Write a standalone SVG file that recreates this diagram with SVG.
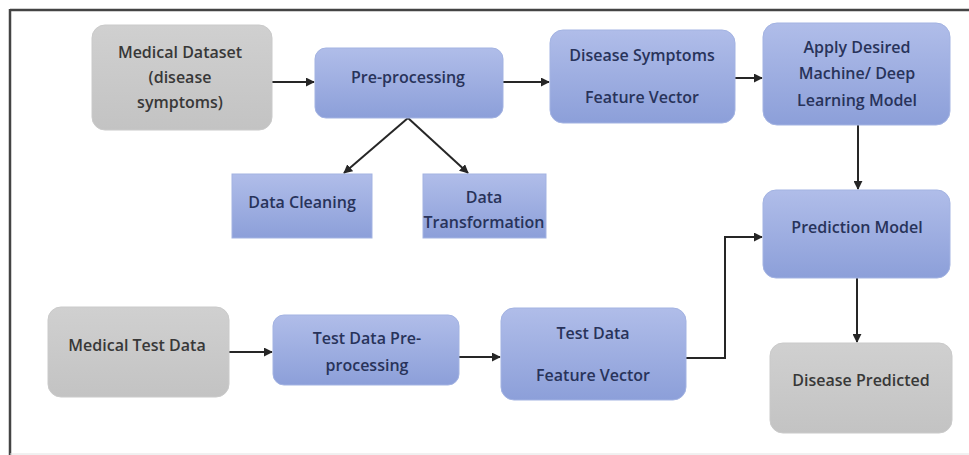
<svg xmlns="http://www.w3.org/2000/svg" width="969" height="455" viewBox="0 0 969 455">
<defs>
<linearGradient id="gb" x1="0" y1="0" x2="0" y2="1">
<stop offset="0" stop-color="#b0bde9"/>
<stop offset="1" stop-color="#8c9fd9"/>
</linearGradient>
<linearGradient id="gg" x1="0" y1="0" x2="0" y2="1">
<stop offset="0" stop-color="#d0d0d0"/>
<stop offset="1" stop-color="#c3c3c3"/>
</linearGradient>
<marker id="ah" viewBox="0 0 10 10" refX="9" refY="5" markerWidth="4.5" markerHeight="4.5" orient="auto">
<path d="M0,0 L10,5 L0,10 z" fill="#262626"/>
</marker>
</defs>
<style>
.blue{fill:url(#gb);stroke:#a3b3e2;stroke-width:1}
.gray{fill:url(#gg);stroke:#cacaca;stroke-width:1}
.t{font-family:"Open Sans","Liberation Sans",sans-serif;font-size:16px;font-weight:600;text-anchor:middle;dominant-baseline:central}
.tb{fill:#28335a}
.tg{fill:#383838}
.c{fill:none;stroke:#262626;stroke-width:2;marker-end:url(#ah)}
</style>
<rect width="969" height="455" fill="#ffffff"/>
<g id="frame">
<line x1="10" y1="10" x2="969" y2="10" stroke="#444" stroke-width="2.5"/>
<line x1="10" y1="9" x2="10" y2="455" stroke="#444" stroke-width="2.5"/>
<line x1="10" y1="454" x2="969" y2="454" stroke="#e2e2e2" stroke-width="1"/>
</g>
<g id="connectors">
<line class="c" x1="272" y1="82" x2="314" y2="82"/>
<line class="c" x1="503" y1="82" x2="549" y2="82"/>
<line class="c" x1="408" y1="118" x2="344" y2="173"/>
<line class="c" x1="408" y1="118" x2="468" y2="173"/>
<line class="c" x1="735" y1="78" x2="762" y2="78"/>
<line class="c" x1="858" y1="125" x2="858" y2="189"/>
<line class="c" x1="857" y1="278" x2="857" y2="342"/>
<line class="c" x1="229" y1="352" x2="272" y2="352"/>
<line class="c" x1="459" y1="357" x2="500" y2="357"/>
<polyline class="c" points="686,358 725,358 725,237 762,237"/>
</g>
<g id="medical-dataset">
<rect class="gray" x="92" y="25" width="180" height="105" rx="13"/>
<text class="t tg" x="180" y="52">Medical Dataset</text>
<text class="t tg" x="180" y="77">(disease</text>
<text class="t tg" x="180" y="102">symptoms)</text>
</g>
<g id="pre-processing">
<rect class="blue" x="315" y="48" width="188" height="70" rx="11"/>
<text class="t tb" x="408" y="77">Pre-processing</text>
</g>
<g id="data-cleaning">
<rect class="blue" x="232" y="174" width="140" height="64"/>
<text class="t tb" x="302" y="202">Data Cleaning</text>
</g>
<g id="data-transformation">
<rect class="blue" x="423" y="174" width="123" height="64"/>
<text class="t tb" x="484" y="197">Data</text>
<text class="t tb" x="484" y="222">Transformation</text>
</g>
<g id="feature-vector">
<rect class="blue" x="550" y="30" width="185" height="93" rx="13"/>
<text class="t tb" x="642" y="55">Disease Symptoms</text>
<text class="t tb" x="642" y="97">Feature Vector</text>
</g>
<g id="apply-model">
<rect class="blue" x="763" y="23" width="187" height="102" rx="14"/>
<text class="t tb" x="857" y="47">Apply Desired</text>
<text class="t tb" x="857" y="73">Machine/ Deep</text>
<text class="t tb" x="857" y="100">Learning Model</text>
</g>
<g id="prediction-model">
<rect class="blue" x="763" y="190" width="187" height="88" rx="13"/>
<text class="t tb" x="857" y="227">Prediction Model</text>
</g>
<g id="disease-predicted">
<rect class="gray" x="770" y="343" width="182" height="90" rx="13"/>
<text class="t tg" x="861" y="380">Disease Predicted</text>
</g>
<g id="medical-test-data">
<rect class="gray" x="48" y="307" width="181" height="90" rx="13"/>
<text class="t tg" x="137" y="345">Medical Test Data</text>
</g>
<g id="test-preprocessing">
<rect class="blue" x="273" y="315" width="186" height="70" rx="11"/>
<text class="t tb" x="367" y="338">Test Data Pre-</text>
<text class="t tb" x="367" y="365">processing</text>
</g>
<g id="test-feature-vector">
<rect class="blue" x="501" y="308" width="185" height="92" rx="13"/>
<text class="t tb" x="593" y="333">Test Data</text>
<text class="t tb" x="593" y="375">Feature Vector</text>
</g>
</svg>
